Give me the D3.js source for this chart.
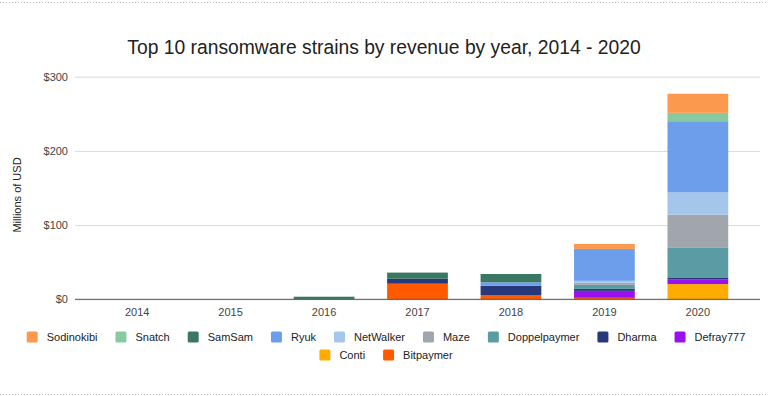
<!DOCTYPE html>
<html>
<head>
<meta charset="utf-8">
<script src="https://cdn.jsdelivr.net/npm/d3@7"></script>
<style>
  body { margin: 0; background: #fff; }
  svg { display: block; font-family: "Liberation Sans", Arial, sans-serif; }
</style>
</head>
<body>
<div class="chart"></div>
<script>
// data (millions of USD)
const years = ["2014", "2015", "2016", "2017", "2018", "2019", "2020"];
const strains = ["Sodinokibi", "Snatch", "SamSam", "Ryuk", "NetWalker", "Maze", "Doppelpaymer", "Dharma", "Defray777", "Conti", "Bitpaymer"];
const sodinokibi   = [0, 0, 0,   0,    0,    6.7,  25.7];
const snatch       = [0, 0, 0,   0,    0,    0,    11.3];
const samsam       = [0, 0, 3.5, 8.3,  11.2, 0,    0];
const ryuk         = [0, 0, 0,   0,    4.5,  43,   96];
const netwalker    = [0, 0, 0,   0,    0,    2.7,  30];
const maze         = [0, 0, 0,   0,    0,    2.7,  44];
const doppelpaymer = [0, 0, 0,   0,    0,    5.4,  40.5];
const dharma       = [0, 0, 0,   6.7,  12.6, 2.7,  3];
const defray777    = [0, 0, 0,   0,    0,    9.4,  6];
const conti        = [0, 0, 0,   0,    0,    0,    20.5];
const bitpaymer    = [0, 0, 0,   21,   5.8,  2,    0];
const yTicks = [0, 100, 200, 300];

const colors = ["#fb9a4e", "#88c9a1", "#3b7763", "#6d9eeb", "#a3c6ea", "#a1a5ac", "#5a9ba4", "#27397a", "#9a10f0", "#ffab00", "#ff5a00"];
const series = [sodinokibi, snatch, samsam, ryuk, netwalker, maze, doppelpaymer, dharma, defray777, conti, bitpaymer];

const width = 768;
const height = 396;

// rows for d3.stack
const rows = years.map(function(y, i) {
    let r = { year: y };
    strains.forEach(function(s, k) { r[s] = series[k][i]; });
    return r;
});

// stacked bottom -> top is reverse of the legend order
const stack = d3.stack().keys(strains.slice().reverse());
const layers = stack(rows);

const svg = d3.select(".chart")
    .append("svg")
    .attr("width", width)
    .attr("height", height);

// dotted frame lines
svg.append("line")
    .attr("x1", 0).attr("x2", width).attr("y1", 2.5).attr("y2", 2.5)
    .attr("stroke", "#bdbdbd").attr("stroke-dasharray", "1,2");
svg.append("line")
    .attr("x1", 0).attr("x2", width).attr("y1", 394.5).attr("y2", 394.5)
    .attr("stroke", "#bdbdbd").attr("stroke-dasharray", "1,2");

// title
svg.append("text")
    .attr("x", 384)
    .attr("y", 54)
    .attr("text-anchor", "middle")
    .text("Top 10 ransomware strains by revenue by year, 2014 - 2020")
    .style("font-size", "19.3px")
    .style("fill", "#222");

let xScale = d3.scaleBand()
    .domain(years)
    .range([75, 760])
    .paddingInner(0.35)
    .paddingOuter(0.34);

let yScale = d3.scaleLinear()
    .domain([0, 300])
    .range([299.3, 76.7]);

// y axis with gridlines
let yAxis = d3.axisLeft(yScale)
    .tickValues(yTicks)
    .tickSize(-685)
    .tickPadding(7)
    .tickFormat(d => "$" + d);

let yg = svg.append("g")
    .attr("transform", "translate(75,0)")
    .call(yAxis);
yg.select(".domain").remove();
yg.selectAll(".tick line").attr("stroke", "#d9d9d9");
yg.selectAll(".tick text")
    .style("font-size", "11px")
    .style("fill", "#444")
    .attr("x", -7);

// bars
svg.append("g")
    .selectAll("g")
    .data(layers)
    .enter()
    .append("g")
    .attr("fill", d => colors[strains.indexOf(d.key)])
    .selectAll("rect")
    .data(d => d)
    .enter()
    .append("rect")
    .attr("x", d => xScale(d.data.year))
    .attr("y", d => yScale(d[1]))
    .attr("width", xScale.bandwidth())
    .attr("height", d => yScale(d[0]) - yScale(d[1]));

// baseline
svg.append("line")
    .attr("x1", 75).attr("x2", 760)
    .attr("y1", yScale(0)).attr("y2", yScale(0))
    .attr("stroke", "#555")
    .attr("stroke-width", 1);

// x axis labels
let xAxis = d3.axisBottom(xScale).tickSize(0).tickPadding(9);
let xg = svg.append("g")
    .attr("transform", "translate(0," + yScale(0) + ")")
    .call(xAxis);
xg.select(".domain").remove();
xg.selectAll(".tick text")
    .style("font-size", "11px")
    .style("fill", "#444");

// y label
svg.append("text")
    .attr("transform", "translate(21,195) rotate(-90)")
    .attr("text-anchor", "middle")
    .text("Millions of USD")
    .style("font-size", "11px")
    .style("fill", "#222");

// legend, two centred rows
function legendRow(names, y) {
    let g = svg.append("g");
    let x = 0;
    names.forEach(function(n) {
        let k = strains.indexOf(n);
        g.append("rect")
            .attr("x", x).attr("y", y - 5.5)
            .attr("width", 11).attr("height", 11)
            .attr("rx", 1.5)
            .attr("fill", colors[k]);
        let t = g.append("text")
            .attr("x", x + 20).attr("y", y + 4)
            .text(n)
            .style("font-size", "11px")
            .style("fill", "#222");
        x += 20 + t.node().getComputedTextLength() + 18;
    });
    let w = x - 18;
    g.attr("transform", "translate(" + (386 - w / 2) + ",0)");
}
legendRow(strains.slice(0, 9), 337);
legendRow(strains.slice(9), 355);
</script>
</body>
</html>
